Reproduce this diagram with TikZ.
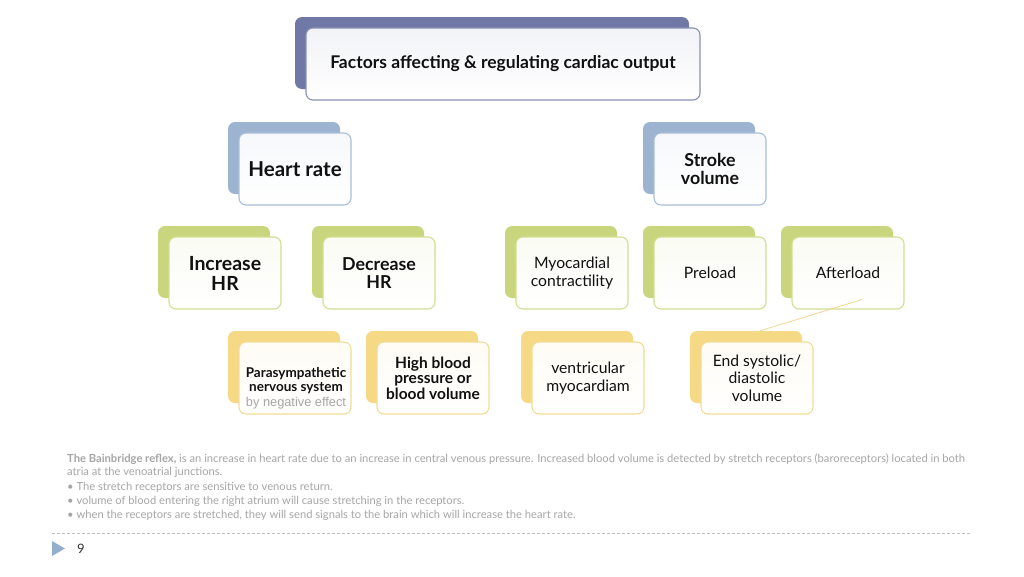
\documentclass[tikz,border=0pt]{standalone}
\usepackage{fontspec}
\setmainfont{Lato}
\newfontfamily\arialf{Liberation Sans}
\usetikzlibrary{calc}
\pgfdeclarelayer{bg}
\pgfsetlayers{bg,main}
\definecolor{topback}{HTML}{7078A5}
\definecolor{topline}{HTML}{8A91B5}
\definecolor{blueback}{HTML}{9CB4D0}
\definecolor{blueline}{HTML}{A9BED8}
\definecolor{greenback}{HTML}{C9D67E}
\definecolor{greenline}{HTML}{D3DE93}
\definecolor{yelback}{HTML}{F6D985}
\definecolor{yelline}{HTML}{F3DC98}
\definecolor{connA}{HTML}{AFC4DB}
\definecolor{connB}{HTML}{D6E09C}
\definecolor{connC}{HTML}{F1D892}
\definecolor{notegray}{HTML}{A6A6A6}
\definecolor{titletext}{HTML}{111111}
\definecolor{tri}{HTML}{93AFCC}
\tikzset{
  box/.style={rounded corners=7pt, minimum width=112pt, minimum height=72pt, inner sep=0pt, align=center, text=titletext},
  backbox/.style={box, fill=#1},
  frontbox/.style 2 args={box, draw=#1, line width=1.1pt, top color=#2!9, bottom color=white},
  conn/.style={draw=#1, line width=1.4pt},
  bigbold/.style={font=\bfseries\fontsize{19.5}{20}\selectfont},
  midbold/.style={font=\bfseries\fontsize{17.8}{18}\selectfont},
  midreg/.style={font=\fontsize{15.7}{17.5}\selectfont},
  note/.style={anchor=base west, inner sep=0pt, text=notegray, font=\fontsize{11.2}{12}\selectfont},
}
\begin{document}
\begin{tikzpicture}[x=1pt,y=-1pt]
\useasboundingbox (0,0) rectangle (1024,576);
\fill[white] (0,0) rectangle (1024,576);

% level 0
\node[backbox=topback, minimum width=394pt] (topB) at (492,53) {};
\node[frontbox={topline}{topback}, minimum width=394pt, font=\bfseries\fontsize{17.5}{18}\selectfont] (top) at (503,64) {Factors affecting \& regulating cardiac output};

% level 1
\node[backbox=blueback] (hrB) at (284,158) {};
\node[frontbox={blueline}{blueback}, font=\bfseries\fontsize{20.5}{21}\selectfont] (hr) at (295,169) {Heart rate};
\node[backbox=blueback] (svB) at (699,158) {};
\node[frontbox={blueline}{blueback}, midbold] (sv) at (710,169) {Stroke\\volume};

% level 2
\node[backbox=greenback] (incB) at (214,262) {};
\node[frontbox={greenline}{greenback}, bigbold] (inc) at (225,273) {Increase\\HR};
\node[backbox=greenback] (decB) at (368,262) {};
\node[frontbox={greenline}{greenback}, midbold] (dec) at (379,273) {Decrease\\HR};
\node[backbox=greenback] (myoB) at (561,262) {};
\node[frontbox={greenline}{greenback}, midreg] (myo) at (572,273) {Myocardial\\contractility};
\node[backbox=greenback] (preB) at (699,262) {};
\node[frontbox={greenline}{greenback}, midreg] (pre) at (710,273) {Preload};
\node[backbox=greenback] (aftB) at (837,262) {};
\node[frontbox={greenline}{greenback}, midreg] (aft) at (848,273) {Afterload};

% level 3
\node[backbox=yelback] (parB) at (284,367) {};
\node[frontbox={yelline}{yelback}] (par) at (295,378) {};
\node[align=center, inner sep=0pt, text=titletext, font=\bfseries\fontsize{13.5}{14}\selectfont] (parT) at (296,388)
  {Parasympathetic\\nervous system\\[1pt]{\arialf\mdseries\fontsize{12.8}{14}\selectfont\color{notegray}by negative effect}};
\node[backbox=yelback] (hbB) at (422,367) {};
\node[frontbox={yelline}{yelback}, font=\bfseries\fontsize{15.5}{15.5}\selectfont] (hb) at (433,378) {High blood\\pressure or\\blood volume};
\node[backbox=yelback] (venB) at (577,367) {};
\node[frontbox={yelline}{yelback}, midreg] (ven) at (588,378) {ventricular\\myocardiam};
\node[backbox=yelback] (esB) at (746,367) {};
\node[frontbox={yelline}{yelback}, midreg] (es) at (757,378) {End systolic/\\diastolic\\volume};

% connectors
\begin{pgfonlayer}{bg}
\draw[conn=connA] (topB.center |- top.south) -- ++(0,10) -| (hrB.north);
\draw[conn=connA] (topB.center |- top.south) -- ++(0,10) -| (svB.north);
\draw[conn=connB] (hrB.center |- hr.south) -- ++(0,10) -| (incB.north);
\draw[conn=connB] (hrB.center |- hr.south) -- ++(0,10) -| (decB.north);
\draw[conn=connB] (svB.center |- sv.south) -- ++(0,10) -| (myoB.north);
\draw[conn=connB] (svB.center |- sv.south) -- ++(0,10) -| (preB.north);
\draw[conn=connB] (svB.center |- sv.south) -- ++(0,10) -| (aftB.north);
\draw[conn=connC] (decB.center |- dec.south) -- ++(0,10.5) -| (parB.north);
\draw[conn=connC] (decB.center |- dec.south) -- ++(0,10.5) -| (hbB.north);
\draw[conn=connC] (myoB.center |- myo.south) -- ++(0,11) -| (venB.north);
\draw[conn=connC] (preB.center |- pre.south) -- ++(0,10.5) -| (esB.north);
\end{pgfonlayer}
\coordinate (aftTail) at ([xshift=14pt,yshift=10pt]aft.south);
\draw[draw=connC, line width=0.8pt] (aftTail) -- ([xshift=14pt]esB.north);

% note text
\node[note] (n1) at (67,462.5) {{\bfseries The Bainbridge reflex,} is an increase in heart rate due to an increase in central venous pressure. Increased blood volume is detected by stretch receptors (baroreceptors) located in both};
\node[note] (n2) at (67,475.5) {atria at the venoatrial junctions.};
\node[note] (n3) at (67,490) {• The stretch receptors are sensitive to venous return.};
\node[note] (n4) at (67,504) {• volume of blood entering the right atrium will cause stretching in the receptors.};
\node[note] (n5) at (67,518) {• when the receptors are stretched, they will send signals to the brain which will increase the heart rate.};

% footer
\draw[black!25, line width=0.8pt, dash pattern=on 3pt off 2pt] (52,533) -- (972,533);
\fill[tri] (52,541) -- (65,548.5) -- (52,556) -- cycle;
\node[font=\fontsize{13}{13}\selectfont, text=black!80, inner sep=0pt] (pg) at (81,549) {9};
\end{tikzpicture}
\end{document}
